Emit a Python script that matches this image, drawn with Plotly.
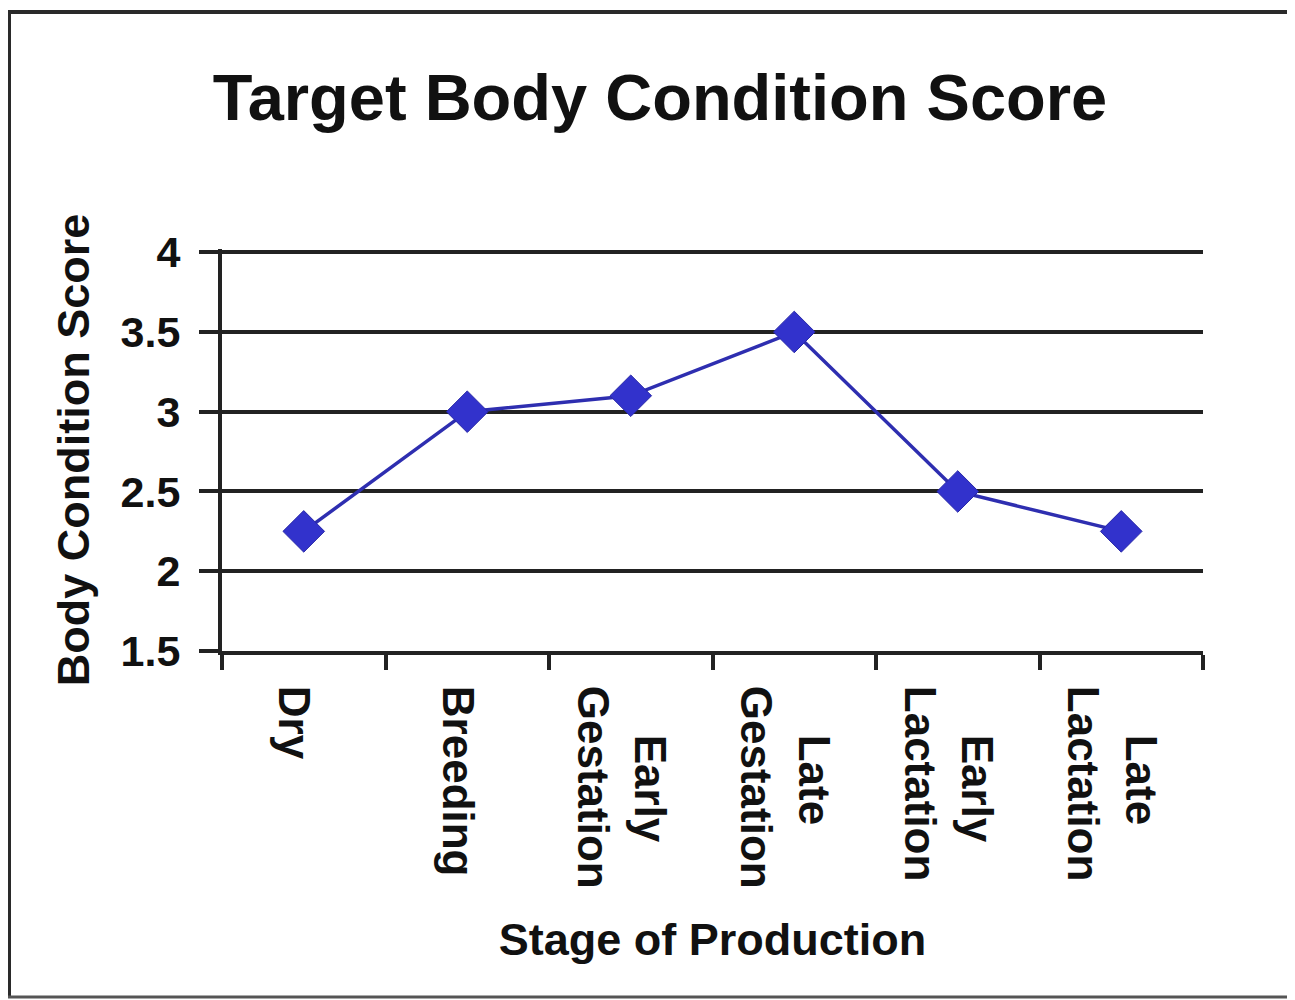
import plotly.graph_objects as go

NB = "\u00a0"
categories = ["Dry", "Breeding", NB * 4 + "Early<br>Gestation", NB * 4 + "Late<br>Gestation",
              NB * 4 + "Early<br>Lactation", NB * 4 + "Late<br>Lactation"]
scores = [2.25, 3.0, 3.1, 3.5, 2.5, 2.25]
y_ticks = [1.5, 2, 2.5, 3, 3.5, 4]
y_tick_labels = ["1.5", "2", "2.5", "3", "3.5", "4"]

OFF = 8  # page body margin
W, H = 1295 - OFF, 1000 - OFF
L, R, T, B = 222 - OFF, 1203 - OFF, 249 - OFF, 651 - OFF
pw, ph = R - L, B - T

def px(x):  # screen x -> paper
    return (x - OFF - L) / pw

def py(y):  # screen y -> paper
    return (B - (y - OFF)) / ph

font_family = "Liberation Sans, Arial, sans-serif"

fig = go.Figure()
fig.add_trace(go.Scatter(
    x=categories, y=scores, mode="lines+markers",
    line=dict(color="#2E2EB0", width=3.5),
    marker=dict(symbol="diamond", size=32, color="#3232CC",
                line=dict(color="#2828A8", width=1)),
    showlegend=False,
))

frame_col = "#2a2a2a"
shapes = [
    dict(type="line", xref="paper", yref="paper", x0=px(8), x1=px(1300), y0=py(12), y1=py(12),
         line=dict(color=frame_col, width=4)),
    dict(type="line", xref="paper", yref="paper", x0=px(9.5), x1=px(9.5), y0=py(10), y1=py(997),
         line=dict(color=frame_col, width=3)),
    dict(type="line", xref="paper", yref="paper", x0=px(8), x1=px(1300), y0=py(997), y1=py(997),
         line=dict(color="#555555", width=3)),
    dict(type="line", xref="paper", yref="paper", x0=px(1292), x1=px(1292), y0=py(12), y1=py(997),
         line=dict(color="#dddddd", width=2)),
]

fig.update_layout(
    width=W, height=H,
    margin=dict(l=L, r=W - R, t=T, b=H - B, pad=0),
    paper_bgcolor="white", plot_bgcolor="white",
    font=dict(family=font_family, color="#111111"),
    title=dict(text="<b>Target Body Condition Score</b>", font=dict(size=65, color="#111111"),
               x=(660 - OFF) / W, xanchor="center", xref="container",
               y=1 - (97 - OFF) / H, yanchor="middle", yref="container"),
    shapes=shapes,
)

fig.update_xaxes(
    type="category", tickangle=90, tickson="boundaries",
    ticks="outside", ticklen=15, tickwidth=4, tickcolor="#222222",
    showline=True, linecolor="#222222", linewidth=4,
    showgrid=False, zeroline=False,
    tickfont=dict(size=44, family=font_family, color="#111111"),
    ticklabelstandoff=22, ticklabelshift=-10,
    title=dict(text="<b>Stage of Production</b>", font=dict(size=45, color="#111111"), standoff=37),
    range=[-0.5, len(categories) - 0.5],
    tickvals=categories, ticktext=[f"<b>{c}</b>" for c in categories],
)
fig.update_yaxes(
    range=[1.5, 4.02], tickvals=y_ticks, ticktext=[f"<b>{t}</b>" for t in y_tick_labels],
    ticks="outside", ticklen=19, tickwidth=4, tickcolor="#222222",
    showline=True, linecolor="#222222", linewidth=4,
    showgrid=True, gridcolor="#222222", gridwidth=4, zeroline=False,
    tickfont=dict(size=43, family=font_family, color="#111111"),
    ticklabelstandoff=10,
    title=dict(text="<b>Body Condition Score</b>", font=dict(size=45, color="#111111"), standoff=18),
)

fig.write_html("out.html")
